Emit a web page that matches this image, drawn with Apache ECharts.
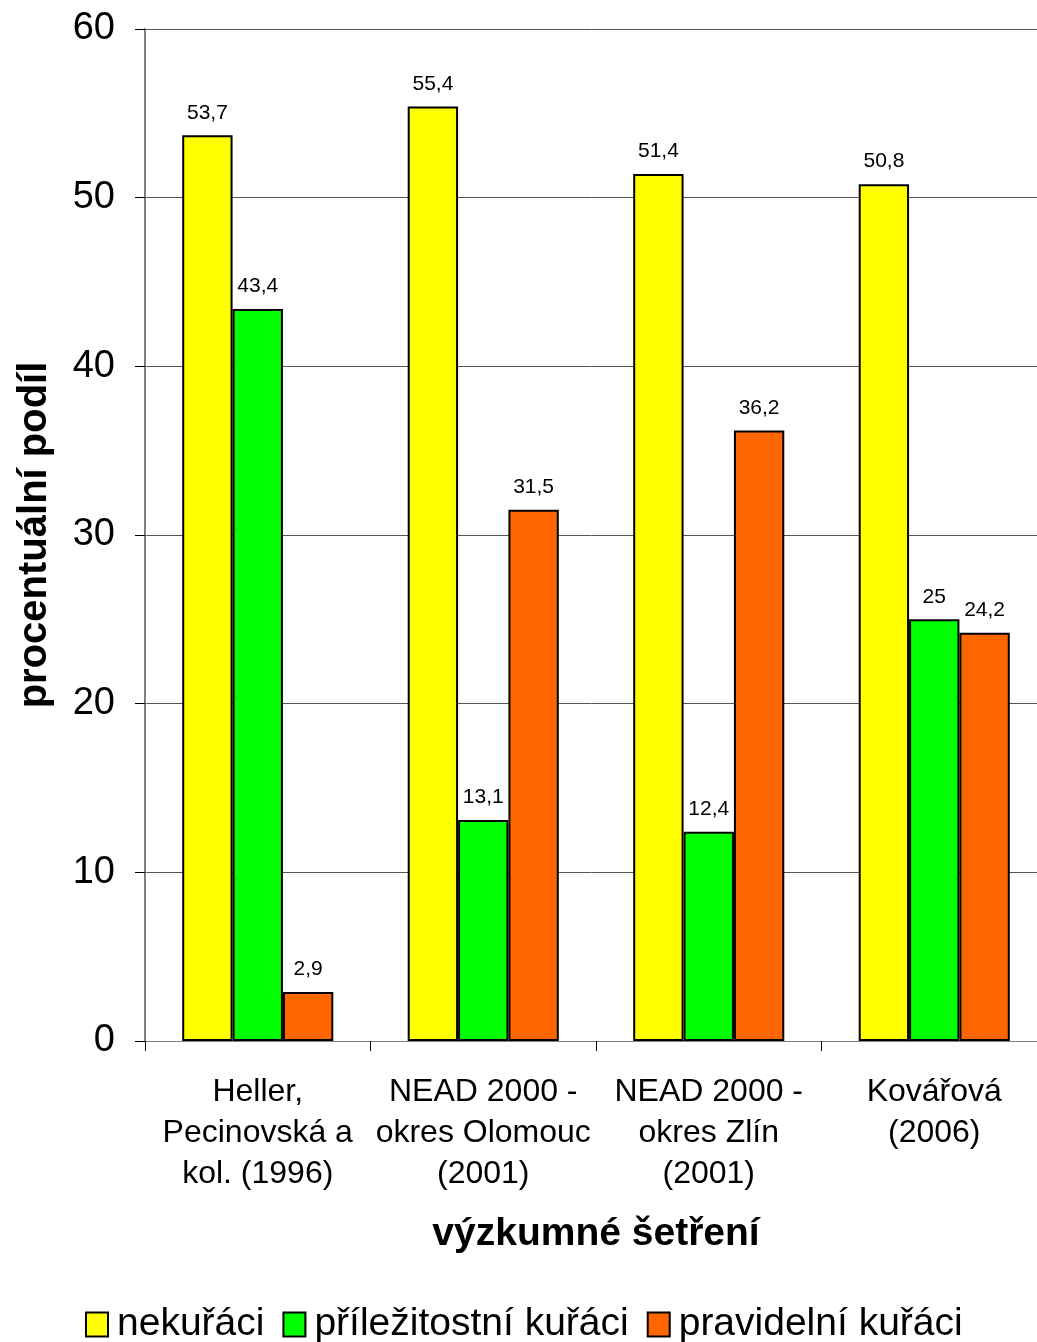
<!DOCTYPE html>
<html>
<head>
<meta charset="utf-8">
<script src="https://cdn.jsdelivr.net/npm/echarts@6/dist/echarts.min.js"></script>
<style>
  html, body { margin: 0; padding: 0; background: #fff; }
  #chart { width: 1037px; height: 1342px; }
</style>
</head>
<body>
<div id="chart"></div>
<script>
// Studies (x categories) and shares of each smoker group, in percent
const categories = [
  'Heller,\nPecinovská a\nkol. (1996)',
  'NEAD 2000 -\nokres Olomouc\n(2001)',
  'NEAD 2000 -\nokres Zlín\n(2001)',
  'Kovářová\n(2006)'
];
const nekuraci = [53.7, 55.4, 51.4, 50.8];
const prilezitostni = [43.4, 13.1, 12.4, 25];
const pravidelni = [2.9, 31.5, 36.2, 24.2];
const seriesNames = ['nekuřáci', 'příležitostní kuřáci', 'pravidelní kuřáci'];
const seriesColors = ['#ffff00', '#00ff00', '#ff6600'];
const yTicks = [0, 10, 20, 30, 40, 50, 60];

const FONT = '"Liberation Sans", Arial, sans-serif';

const chart = echarts.init(document.getElementById('chart'), null, { renderer: 'canvas' });

function barSeries(name, data, color) {
  return {
    name: name,
    type: 'bar',
    data: data,
    barGap: '0%',
    barCategoryGap: '33%',
    itemStyle: { color: color, borderColor: '#000', borderWidth: 2 },
    label: {
      show: true,
      position: 'top',
      distance: 12,
      fontFamily: FONT,
      fontSize: 21,
      color: '#000',
      formatter: p => String(p.value).replace('.', ',')
    }
  };
}

chart.setOption({
  animation: false,
  backgroundColor: '#fff',
  textStyle: { fontFamily: FONT },
  // the plot runs slightly past the right edge of the canvas
  grid: { left: 145, top: 29, width: 902, height: 1012, outerBoundsMode: 'none', containLabel: false },
  legend: {
    top: 1300,
    left: 80,
    itemWidth: 22,
    itemHeight: 24,
    itemGap: 18,
    icon: 'rect',
    itemStyle: { borderColor: '#000', borderWidth: 2 },
    textStyle: { fontFamily: FONT, fontSize: 39, color: '#000', padding: [0, 0, 0, 4] },
    data: seriesNames
  },
  xAxis: {
    type: 'category',
    data: categories,
    name: 'výzkumné šetření',
    nameLocation: 'middle',
    nameGap: 174,
    nameTextStyle: { fontFamily: FONT, fontSize: 39, fontWeight: 'bold', color: '#000' },
    axisLine: { show: true, lineStyle: { color: '#808080', width: 1 } },
    axisTick: { show: true, length: 10, lineStyle: { color: '#000' } },
    axisLabel: { fontFamily: FONT, fontSize: 32, lineHeight: 41, color: '#000', margin: 31, interval: 0 },
    splitLine: { show: false }
  },
  yAxis: {
    type: 'value',
    min: yTicks[0],
    max: yTicks[yTicks.length - 1],
    interval: 10,
    name: 'procentuální podíl',
    nameLocation: 'middle',
    nameGap: 90,
    nameRotate: 90,
    nameTextStyle: { fontFamily: FONT, fontSize: 40, fontWeight: 'bold', color: '#000' },
    axisLine: { show: true, lineStyle: { color: '#808080', width: 2 } },
    axisTick: { show: true, length: 10, lineStyle: { color: '#000' } },
    axisLabel: { fontFamily: FONT, fontSize: 38, color: '#000', margin: 30 },
    splitLine: { show: true, lineStyle: { color: '#555', width: 1 } }
  },
  series: [
    barSeries(seriesNames[0], nekuraci, seriesColors[0]),
    barSeries(seriesNames[1], prilezitostni, seriesColors[1]),
    barSeries(seriesNames[2], pravidelni, seriesColors[2])
  ]
});
</script>
</body>
</html>
